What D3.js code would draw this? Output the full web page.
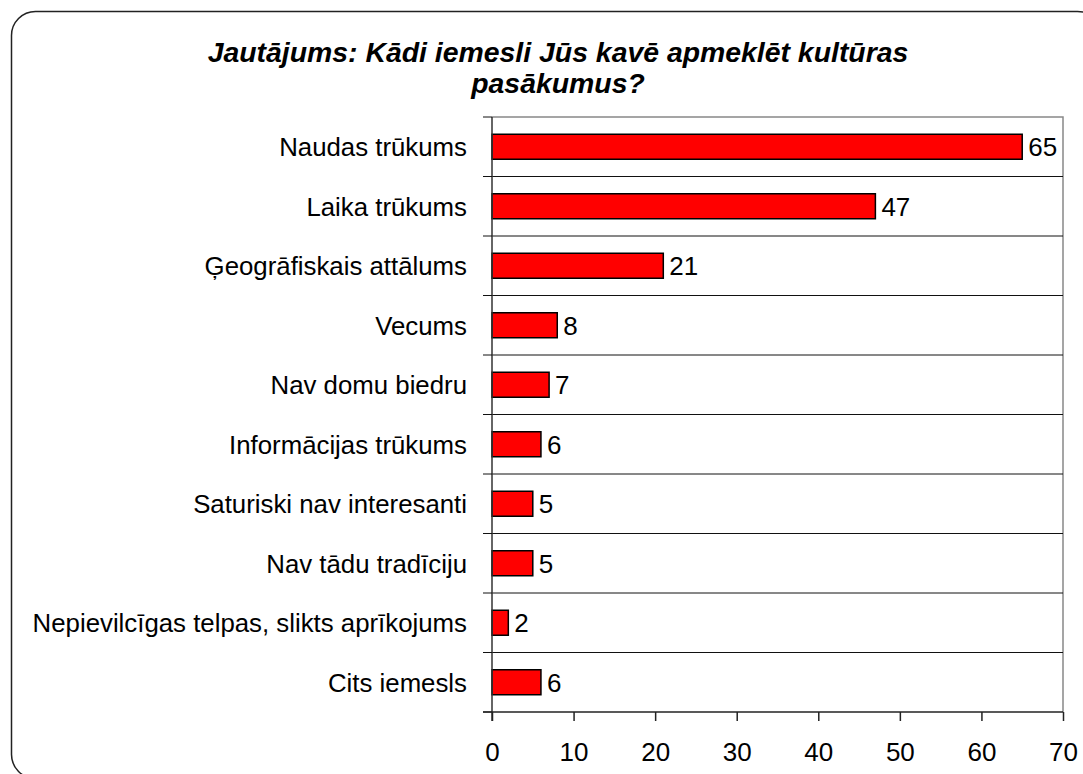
<!DOCTYPE html>
<html>
<head>
<meta charset="utf-8">
<script src="https://cdn.jsdelivr.net/npm/d3@7"></script>
<style>
  body { margin: 0; background: #fff; }
  text { font-family: "Liberation Sans", Arial, sans-serif; }
</style>
</head>
<body>
<div id="chart"></div>
<script>
const categories = [
  'Naudas trūkums',
  'Laika trūkums',
  'Ģeogrāfiskais attālums',
  'Vecums',
  'Nav domu biedru',
  'Informācijas trūkums',
  'Saturiski nav interesanti',
  'Nav tādu tradīciju',
  'Nepievilcīgas telpas, slikts aprīkojums',
  'Cits iemesls'
]
const values = [65, 47, 21, 8, 7, 6, 5, 5, 2, 6]
const xTicks = [0, 10, 20, 30, 40, 50, 60, 70]
const titleLines = ['Jautājums: Kādi iemesli Jūs kavē apmeklēt kultūras', 'pasākumus?']

const width = 1083
const height = 774
const margin = { top: 117, right: 20, bottom: 62, left: 492 }

const svg = d3.select('#chart')
  .append('svg')
  .attr('width', width)
  .attr('height', height)

// outer frame
svg.append('rect')
  .attr('x', 11.5)
  .attr('y', 11.5)
  .attr('width', 1090)
  .attr('height', 767)
  .attr('rx', 24)
  .attr('fill', 'none')
  .attr('stroke', '#222')
  .attr('stroke-width', 1.5)

const xScale = d3.scaleLinear()
  .domain([0, 70])
  .range([margin.left, 1063])

const yScale = d3.scaleBand()
  .domain(categories)
  .range([margin.top, height - margin.bottom])
  .paddingInner(0.58)
  .paddingOuter(0.29)

const band = yScale.step()
const plotTop = margin.top
const plotBottom = height - margin.bottom

// plot border (top / right in grey)
svg.append('path')
  .attr('d', `M${xScale(0)},${plotTop}H${xScale(70)}V${plotBottom}`)
  .attr('fill', 'none')
  .attr('stroke', '#888')
  .attr('stroke-width', 1.5)

// horizontal separators between categories
svg.append('g')
  .selectAll('line')
  .data(d3.range(1, categories.length))
  .join('line')
  .attr('x1', xScale(0))
  .attr('x2', xScale(70))
  .attr('y1', i => plotTop + i * band)
  .attr('y2', i => plotTop + i * band)
  .attr('stroke', '#111')
  .attr('stroke-width', 1)

// bars
svg.append('g')
  .selectAll('rect')
  .data(values)
  .join('rect')
  .attr('x', xScale(0))
  .attr('y', (d, i) => yScale(categories[i]))
  .attr('width', d => xScale(d) - xScale(0))
  .attr('height', yScale.bandwidth())
  .attr('fill', '#ff0000')
  .attr('stroke', '#000')
  .attr('stroke-width', 1.5)

// value labels
svg.append('g')
  .selectAll('text')
  .data(values)
  .join('text')
  .attr('x', d => xScale(d) + 6)
  .attr('y', (d, i) => yScale(categories[i]) + yScale.bandwidth() / 2)
  .attr('dy', '0.36em')
  .attr('font-size', 26)
  .attr('fill', '#000')
  .text(d => d)

// left axis with ticks on category boundaries
const yAxis = g => g
  .call(g => g.append('line')
    .attr('x1', xScale(0)).attr('x2', xScale(0))
    .attr('y1', plotTop).attr('y2', plotBottom + 9)
    .attr('stroke', '#333').attr('stroke-width', 1.5))
  .call(g => g.selectAll('.tk')
    .data(d3.range(0, categories.length + 1))
    .join('line')
    .attr('x1', xScale(0) - 9).attr('x2', xScale(0))
    .attr('y1', i => plotTop + i * band)
    .attr('y2', i => plotTop + i * band)
    .attr('stroke', '#111').attr('stroke-width', 1))
  .call(g => g.selectAll('text')
    .data(categories)
    .join('text')
    .attr('x', 467)
    .attr('y', d => yScale(d) + yScale.bandwidth() / 2)
    .attr('dy', '0.36em')
    .attr('text-anchor', 'end')
    .attr('font-size', 25.8)
    .attr('fill', '#000')
    .text(d => d))

const xAxis = g => g
  .attr('transform', `translate(0,${plotBottom})`)
  .call(d3.axisBottom(xScale).tickValues(xTicks).tickSize(9).tickPadding(22).tickSizeOuter(0))
  .call(g => g.select('.domain').attr('d', `M${xScale(0) - 9},0H${xScale(70)}`).attr('stroke', '#222').attr('stroke-width', 1.5))
  .call(g => g.selectAll('.tick line').attr('stroke', '#222').attr('stroke-width', 1.5))
  .call(g => g.selectAll('.tick text')
    .attr('font-size', 26)
    .attr('font-family', '"Liberation Sans", Arial, sans-serif')
    .attr('fill', '#000'))

svg.append('g').call(yAxis)
svg.append('g').call(xAxis)

// title
svg.append('g')
  .selectAll('text')
  .data(titleLines)
  .join('text')
  .attr('x', 558)
  .attr('y', (d, i) => 62 + i * 31)
  .attr('text-anchor', 'middle')
  .attr('font-size', 28.4)
  .attr('font-weight', 'bold')
  .attr('font-style', 'italic')
  .attr('fill', '#000')
  .text(d => d)
</script>
</body>
</html>
